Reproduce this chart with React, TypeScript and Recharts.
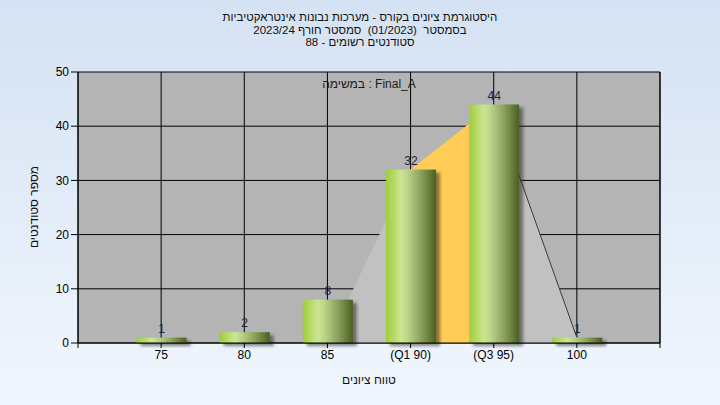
import React from "react";
import {
  Area,
  Bar,
  CartesianGrid,
  ComposedChart,
  LabelList,
  XAxis,
  YAxis,
} from "recharts";

// histogram bins and student counts
const gradeBins = [75, 80, 85, 90, 95, 100];
const studentCounts = [1, 2, 8, 32, 44, 1];

// x axis ticks (70 / 105 are the empty edge slots)
const xTickValues = [70, 75, 80, 85, 90, 95, 100, 105];
const xTickLabels = ["", "75", "80", "85", "(Q1 90)", "(Q3 95)", "100", ""];
const yTicks = [0, 10, 20, 30, 40, 50];

// quartile shape drawn behind the bars
const shapeBins = [85, 90, 95, 100];
const shapeValues = [0, 32, 44, 1];
const iqrBins = [90, 95];
const tailBins = [95, 100];

const titleLines = [
  "היסטוגרמת ציונים בקורס - מערכות נבונות אינטראקטיביות",
  "בסמסטר  (01/2023)  סמסטר חורף 2023/24",
  "סטודנטים רשומים - 88",
];
const taskLabel = "במשימה : Final_A";
const xTitle = "טווח ציונים";
const yTitle = "מספר סטודנטים";

const FONT = '"Liberation Sans", "DejaVu Sans", Arial, sans-serif';

const allBins = Array.from(new Set([...gradeBins, ...shapeBins])).sort(
  (a, b) => a - b
);

const chartData = allBins.map((bin) => {
  const gi = gradeBins.indexOf(bin);
  const si = shapeBins.indexOf(bin);
  return {
    bin,
    count: gi >= 0 ? studentCounts[gi] : undefined,
    shape: si >= 0 ? shapeValues[si] : undefined,
    iqr: iqrBins.includes(bin) && si >= 0 ? shapeValues[si] : undefined,
    tail: tailBins.includes(bin) && si >= 0 ? shapeValues[si] : undefined,
  };
});

function GradientBar(props: any) {
  const { x, y, width, height } = props;
  if (!height || height <= 0) return null;
  return (
    <g>
      <rect
        x={x + 4}
        y={y + 3}
        width={width}
        height={height}
        fill="rgba(40,40,40,0.55)"
        filter="url(#barShadow)"
      />
      <rect x={x} y={y} width={width} height={height} fill="url(#barFill)" />
    </g>
  );
}

const tickStyle = { fill: "#000", fontSize: 12, fontFamily: FONT };

export default function App() {
  return (
    <div
      style={{
        position: "absolute",
        left: 0,
        top: 0,
        width: 720,
        height: 405,
        background: "linear-gradient(#d5e2f3, #f0f6fd)",
        fontFamily: FONT,
        overflow: "hidden",
      }}
    >
      <div
        dir="rtl"
        style={{
          position: "absolute",
          top: 11,
          left: 0,
          width: 720,
          textAlign: "center",
          fontSize: 11.5,
          lineHeight: "12.5px",
          color: "#111",
          whiteSpace: "pre",
        }}
      >
        {titleLines.map((t) => (
          <div key={t}>{t}</div>
        ))}
      </div>

      <ComposedChart
        width={720}
        height={405}
        data={chartData}
        margin={{ top: 72, right: 0, bottom: 32, left: 0 }}
      >
        <defs>
          <linearGradient id="barFill" x1="0" y1="0" x2="1" y2="0">
            <stop offset="0%" stopColor="#9fcd3c" />
            <stop offset="30%" stopColor="#cbe692" />
            <stop offset="42%" stopColor="#bcd68a" />
            <stop offset="70%" stopColor="#8ba05c" />
            <stop offset="100%" stopColor="#4a601f" />
          </linearGradient>
          <filter id="barShadow" x="-30%" y="-30%" width="160%" height="160%">
            <feGaussianBlur stdDeviation="1.6" />
          </filter>
        </defs>
        <CartesianGrid
          yAxisId="left"
          stroke="#000"
          strokeOpacity={1}
          fill="#b4b4b4"
          fillOpacity={1}
        />
        <XAxis
          type="number"
          dataKey="bin"
          domain={[70, 105]}
          ticks={xTickValues}
          interval={0}
          tickFormatter={(v: number) => xTickLabels[xTickValues.indexOf(v)] ?? ""}
          height={30}
          tickSize={5}
          axisLine={{ stroke: "#000" }}
          tickLine={{ stroke: "#000" }}
          tick={tickStyle}
        />
        <YAxis
          yAxisId="left"
          domain={[0, 50]}
          ticks={yTicks}
          width={78}
          tickSize={7}
          axisLine={{ stroke: "#000" }}
          tickLine={{ stroke: "#000" }}
          tick={tickStyle}
        />
        <YAxis
          yAxisId="right"
          orientation="right"
          domain={[0, 50]}
          ticks={yTicks}
          width={60}
          tickSize={7}
          axisLine={{ stroke: "#000" }}
          tickLine={{ stroke: "#000" }}
          tick={tickStyle}
        />
        <Area
          yAxisId="left"
          type="linear"
          dataKey="shape"
          fill="#c1c1c1"
          fillOpacity={1}
          stroke="none"
          dot={false}
          activeDot={false}
          isAnimationActive={false}
        />
        <Area
          yAxisId="left"
          type="linear"
          dataKey="iqr"
          fill="#ffcc55"
          fillOpacity={1}
          stroke="none"
          dot={false}
          activeDot={false}
          isAnimationActive={false}
        />
        <Area
          yAxisId="left"
          type="linear"
          dataKey="tail"
          fill="none"
          fillOpacity={0}
          stroke="#3a3a3a"
          strokeWidth={1}
          dot={false}
          activeDot={false}
          isAnimationActive={false}
        />
        <Bar
          yAxisId="left"
          dataKey="count"
          barSize={50}
          fill="url(#barFill)"
          shape={<GradientBar />}
          isAnimationActive={false}
        >
          <LabelList
            dataKey="count"
            position="top"
            offset={5}
            fill="#1a2440"
            fontSize={12}
            fontFamily={FONT}
          />
        </Bar>
      </ComposedChart>

      <div
        style={{
          position: "absolute",
          top: 77,
          left: 78,
          width: 582,
          textAlign: "center",
          fontSize: 12,
          color: "#1a1a1a",
          whiteSpace: "pre",
        }}
      >
        {taskLabel}
      </div>
      <div
        dir="rtl"
        style={{
          position: "absolute",
          top: 373,
          left: 78,
          width: 582,
          textAlign: "center",
          fontSize: 12,
          color: "#111",
        }}
      >
        {xTitle}
      </div>
      <div
        dir="rtl"
        style={{
          position: "absolute",
          left: 34,
          top: 207,
          transform: "translate(-50%, -50%) rotate(-90deg)",
          fontSize: 12,
          color: "#111",
          whiteSpace: "pre",
        }}
      >
        {yTitle}
      </div>
    </div>
  );
}
